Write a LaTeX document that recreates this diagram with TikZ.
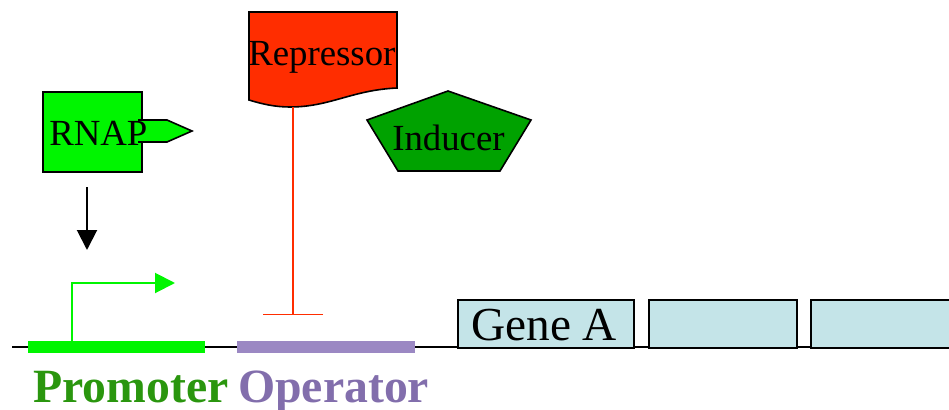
\documentclass[tikz,border=0pt]{standalone}
\usepackage{fontspec}
\setmainfont{Liberation Serif}
\usetikzlibrary{arrows.meta}
\definecolor{rnapgreen}{RGB}{0,245,0}
\definecolor{indgreen}{RGB}{0,162,0}
\definecolor{repred}{RGB}{255,45,0}
\definecolor{promtext}{RGB}{42,150,14}
\definecolor{optext}{RGB}{130,110,172}
\definecolor{opbar}{RGB}{155,136,195}
\definecolor{genefill}{RGB}{196,228,232}
\tikzset{
  outlined/.style={draw=black, line width=1.2pt, line join=miter},
  label27/.style={inner sep=0pt, font=\fontsize{27.6}{30}\selectfont},
  label35/.style={inner sep=0pt, font=\fontsize{35.5}{40}\selectfont},
  boldlabel/.style={inner sep=0pt, font=\fontsize{35.8}{40}\selectfont\bfseries},
  genebox/.style={outlined, fill=genefill},
  dnabar/.style={line width=9pt},
}
\begin{document}
\begin{tikzpicture}[x=0.75pt, y=-0.75pt]
\useasboundingbox (0,0) rectangle (949,410);

% DNA strand
\coordinate (dnaL) at (12,347);
\coordinate (dnaR) at (949,347);
\draw[line width=1.2pt] (dnaL) -- (dnaR);

% promoter and operator regions
\coordinate (promL) at (28,347);
\coordinate (promR) at (205,347);
\coordinate (opL) at (237,347);
\coordinate (opR) at (415,347);
\draw[dnabar, rnapgreen] (promL) -- (promR);
\draw[dnabar, opbar] (opL) -- (opR);

% gene boxes
\node[genebox, minimum width=132pt, minimum height=36pt, inner sep=0pt, anchor=north west] (geneA) at (457,299) {};
\node[genebox, minimum width=111pt, minimum height=36pt, inner sep=0pt, anchor=north west] (gene2) at (648,299) {};
\node[genebox, minimum width=120pt, minimum height=36pt, inner sep=0pt, anchor=north west] (gene3) at (810,299) {};
\node[label35, anchor=base west] (geneAtxt) at (471,340) {Gene A};

% transcription start arrow
\coordinate (tss) at (72,341);
\coordinate (tssTop) at (72,283);
\coordinate (tssEnd) at (175,283);
\draw[rnapgreen, line width=1.5pt, -{Triangle[length=15pt, width=15pt]}] (tss) -- (tssTop) -- (tssEnd);

% RNA polymerase
\path[outlined, fill=rnapgreen] (43,92) rectangle (142,172);
\path[outlined, fill=rnapgreen] (138,120) -- (167,120) -- (192,131) -- (167,142) -- (138,142);
\node[label27, anchor=base west] (rnap) at (49,145) {RNAP};
\coordinate (bindTop) at (87,187);
\coordinate (bindTip) at (87,250);
\draw[line width=1.5pt, -{Triangle[length=15pt, width=15pt]}] (bindTop) -- (bindTip);

% repressor
\path[outlined, fill=repred] (249,12) -- (397,12) -- (397,88)
  .. controls (352,90) and (330,107) .. (290,107)
  .. controls (275,107) and (262,104) .. (249,100) -- cycle;
\node[label27, anchor=base west] (rep) at (248,65) {Repressor};
\coordinate (repFoot) at (293,107);
\coordinate (opBlock) at (293,315);
\draw[repred, line width=1.1pt, -{Bar[width=45pt]}] (repFoot) -- (opBlock);

% inducer
\path[outlined, fill=indgreen] (448,91) -- (531,120) -- (500,171) -- (398,171) -- (367,120) -- cycle;
\node[label27, anchor=base west] (ind) at (392,150) {Inducer};

% region labels
\node[boldlabel, anchor=base west, text=promtext] (promtxt) at (33,402) {Promoter};
\node[boldlabel, anchor=base west, text=optext] (optxt) at (238,402) {Operator};
\end{tikzpicture}
\end{document}
